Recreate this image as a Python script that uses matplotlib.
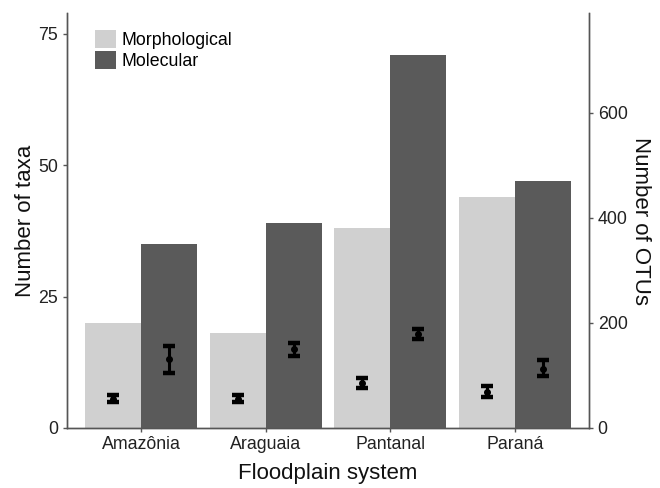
import matplotlib
matplotlib.use("Agg")
import matplotlib.pyplot as plt
import numpy as np
from matplotlib.patches import Patch

plt.rcParams['font.family'] = ['Liberation Sans', 'DejaVu Sans']

systems = ["Amazônia", "Araguaia", "Pantanal", "Paraná"]
morph_taxa = [20, 18, 38, 44]          # left axis: Number of taxa
mol_otus = [350, 390, 710, 470]        # right axis: Number of OTUs
morph_mean = [5.6, 5.6, 8.6, 6.9]      # mean taxa per sample
morph_low = [4.9, 4.9, 7.6, 5.9]
morph_high = [6.3, 6.3, 9.6, 7.9]
mol_mean = [131, 150, 179, 113]        # mean OTUs per sample
mol_low = [105, 137, 170, 98]
mol_high = [156, 161, 188, 129]

light = "#d0d0d0"
dark = "#5a5a5a"
axcol = "#555555"

fig = plt.figure(figsize=(6.6, 4.88), dpi=100)
ax = fig.add_axes([0.101, 0.123, 0.792, 0.850])
ax2 = ax.twinx()

x = np.arange(len(systems))
w = 0.45
ax.bar(x - w/2, morph_taxa, width=w, color=light, zorder=1)
ax2.bar(x + w/2, mol_otus, width=w, color=dark, zorder=1)

mm = np.array(morph_mean)
ax.errorbar(x - w/2, mm, yerr=[mm - np.array(morph_low), np.array(morph_high) - mm],
            fmt='o', color='black', ms=4, elinewidth=2.2, capsize=4.5, capthick=3.2, zorder=3)
om = np.array(mol_mean)
ax2.errorbar(x + w/2, om, yerr=[om - np.array(mol_low), np.array(mol_high) - om],
             fmt='o', color='black', ms=4, elinewidth=2.2, capsize=4.5, capthick=3.2, zorder=3)

ax.set_xlim(-0.6, 3.6)
ax.set_ylim(0, 78.9)
ax2.set_ylim(0, 789)
ax.set_yticks([0, 25, 50, 75])
ax2.set_yticks([0, 200, 400, 600])
ax.set_xticks(x)
ax.set_xticklabels(systems)

for a in (ax, ax2):
    a.spines['top'].set_visible(False)
    for s in ['left', 'right', 'bottom']:
        a.spines[s].set_color(axcol)
        a.spines[s].set_linewidth(1.0)
    a.tick_params(colors=axcol, labelcolor='#222222', labelsize=12.8, length=3, width=1, pad=3)

ax.set_xlabel("Floodplain system", fontsize=16, color='#111111', labelpad=7)
ax.set_ylabel("Number of taxa", fontsize=16, color='#111111', labelpad=1.5)
ax2.set_ylabel("Number of OTUs", fontsize=16, color='#111111', rotation=270, labelpad=17)

handles = [Patch(facecolor=light, label="Morphological"), Patch(facecolor=dark, label="Molecular")]
ax.legend(handles=handles, loc='upper left', bbox_to_anchor=(0.033, 0.985), frameon=False,
          fontsize=12.8, handlelength=1.2, handleheight=1.2, handletextpad=0.3,
          labelspacing=0.1, borderaxespad=0.2)

fig.savefig("out.png", dpi=100)
